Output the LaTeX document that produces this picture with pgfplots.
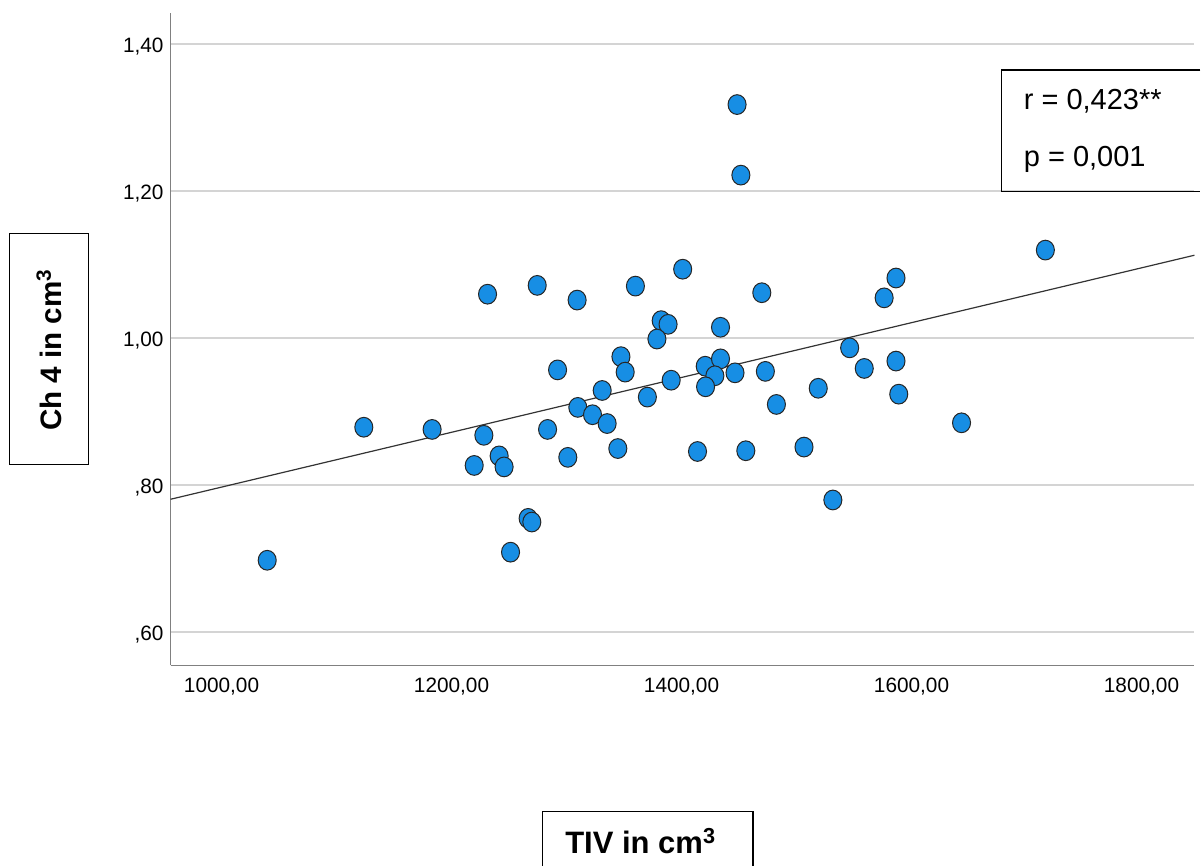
\documentclass[border=0pt]{standalone}
\usepackage{pgfplots}
\pgfplotsset{compat=1.18}
\usepackage{fontspec}
\setmainfont{Liberation Sans}
\definecolor{dotblue}{RGB}{23,142,228}
\definecolor{gridgray}{RGB}{212,212,212}
\definecolor{axgray}{RGB}{128,128,128}
\newcommand{\pxy}[2]{({(#1)*0.5pt},{(863-(#2))*0.5pt})}
\begin{document}
\begin{tikzpicture}
\path \pxy{0}{863} rectangle \pxy{1201}{0};
\begin{axis}[
  at={(85.35pt,98.65pt)}, anchor=south west,
  scale only axis, width=512.15pt, height=326.5pt,
  xmin=955.7, xmax=1846, ymin=0.555, ymax=1.443,
  axis x line=bottom, axis y line=left,
  axis line style={-, draw=axgray, line width=0.7pt},
  major tick length=0pt,
  xtick={1000,1200,1400,1600,1800},
  xticklabels={{1000,00},{1200,00},{1400,00},{1600,00},{1800,00}},
  ytick={0.6,0.8,1.0,1.2,1.4},
  yticklabels={{,60},{,80},{1,00},{1,20},{1,40}},
  ymajorgrids, major grid style={draw=gridgray, line width=1pt},
  ticklabel style={font=\fontsize{10.4pt}{12pt}\selectfont, text=black},
  xticklabel style={yshift=-3pt},
  yticklabel style={yshift=-1pt},
  /pgf/number format/assume math mode=true,
  clip=false,
]
\addplot[draw=black!80, line width=0.6pt, no marks] coordinates {(955.7,0.781) (1846,1.113)};
\addplot[only marks, mark=*, mark size=4.75pt,
  mark options={fill=dotblue, draw=black!85, line width=0.5pt, xscale=0.95, yscale=1.04}] coordinates {
(1039.7,0.698) (1123.7,0.879) (1183.1,0.876) (1228.1,0.868) (1219.7,0.827)
(1241.4,0.840) (1245.7,0.825) (1292.2,0.957) (1283.5,0.876) (1301.1,0.838)
(1266.6,0.755) (1269.8,0.750) (1251.3,0.709) (1309.8,0.906) (1322.6,0.896)
(1331.0,0.929) (1335.3,0.884) (1231.3,1.060) (1274.5,1.072) (1309.2,1.052)
(1448.3,1.318) (1451.6,1.222) (1716.4,1.120) (1359.9,1.071) (1401.0,1.094)
(1469.8,1.062) (1586.5,1.082) (1576.2,1.055) (1382.3,1.024) (1388.3,1.019)
(1378.6,0.999) (1433.9,1.015) (1546.2,0.987) (1347.3,0.975) (1351.0,0.954)
(1344.6,0.850) (1370.3,0.920) (1391.0,0.943) (1420.6,0.962) (1433.9,0.972)
(1429.0,0.949) (1420.9,0.934) (1446.5,0.953) (1472.9,0.955) (1482.5,0.910)
(1518.9,0.932) (1558.9,0.959) (1586.5,0.969) (1588.9,0.924) (1643.5,0.885)
(1413.9,0.846) (1455.9,0.847) (1506.5,0.852) (1531.6,0.780)
};
\end{axis}
% y label box
\draw[black, line width=0.6pt] \pxy{9.3}{234} rectangle \pxy{88.3}{465};
\node[rotate=90, font=\fontsize{14.8pt}{17pt}\selectfont\bfseries, inner sep=0pt] at \pxy{49}{350} {Ch 4 in cm\textsuperscript{3}};
% x label box
\draw[black, line width=0.6pt] \pxy{542.7}{866} -- \pxy{542.7}{812.3} -- \pxy{753.3}{812.3} -- \pxy{753.3}{866};
\node[anchor=base, font=\fontsize{15.5pt}{18pt}\selectfont\bfseries, inner sep=0pt] at \pxy{641}{854} {TIV in cm\textsuperscript{3}};
% annotation box
\draw[black, line width=0.6pt] \pxy{1201}{70} -- \pxy{1002}{70} -- \pxy{1002}{191.7} -- \pxy{1201}{191.7};
\node[anchor=base west, font=\fontsize{14.5pt}{17pt}\selectfont, inner sep=0pt] at \pxy{1024}{110} {r = 0,423**};
\node[anchor=base west, font=\fontsize{14.5pt}{17pt}\selectfont, inner sep=0pt] at \pxy{1024}{166.7} {p = 0,001};
\end{tikzpicture}
\end{document}
